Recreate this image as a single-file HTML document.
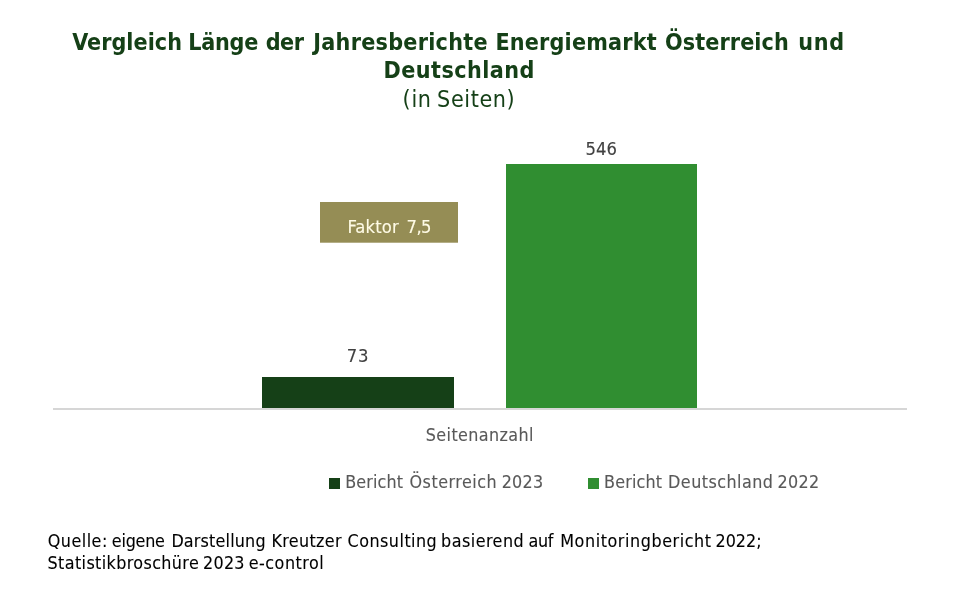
<!DOCTYPE html>
<html lang="de">
<head>
<meta charset="utf-8">
<title>Vergleich Länge der Jahresberichte Energiemarkt Österreich und Deutschland</title>
<style>
  html, body { margin: 0; padding: 0; background: #ffffff; }
  body { width: 953px; height: 598px; position: relative; overflow: hidden;
         font-family: "DejaVu Sans Condensed", "DejaVu Sans", "Liberation Sans", sans-serif;
         font-stretch: condensed; }
  .ln { position: absolute; left: 0; width: 953px; height: 0; white-space: nowrap; line-height: 1; }
  .ln span { position: absolute; top: 0; white-space: nowrap; }
  .title { color: #154017; font-size: 23.1px; font-weight: bold; }
  .sub { color: #154017; font-size: 23.1px; font-weight: normal; }
  .val { color: #404040; font-size: 18.25px; -webkit-text-stroke: 0.12px #404040; }
  .fk  { color: #fffbe6; font-size: 18.25px; -webkit-text-stroke: 0.12px #fffbe6; }
  .ax  { color: #595959; font-size: 17.75px; -webkit-text-stroke: 0.12px #595959; }
  .leg { color: #595959; font-size: 17.75px; -webkit-text-stroke: 0.12px #595959; }
  .src { color: #000000; font-size: 17.75px; -webkit-text-stroke: 0.1px #000000; }
  .bar { position: absolute; }
  #bar-at { left: 262px; top: 377px; width: 192px; height: 31px; background: #154017; }
  #bar-de { left: 506px; top: 164px; width: 191px; height: 244px; background: #308e31; }
  #axis { position: absolute; left: 53px; top: 408px; width: 854px; height: 2px; background: #d6d6d6; }
  #faktor { position: absolute; left: 320px; top: 202px; width: 138px; height: 41px; background: linear-gradient(#958d55 0, #958d55 40px, #b4ae87 40px); }
  .sq { position: absolute; width: 11px; height: 11px; top: 478px; }
  #sq1 { left: 329px; background: #154017; }
  #sq2 { left: 588px; background: #308e31; }
</style>
</head>
<body>
  <div class="ln title" id="t1" style="top:30.8px"><span style="left:72.18px;letter-spacing:0.039px">Vergleich</span> <span style="left:188.28px;letter-spacing:-0.255px">Länge</span> <span style="left:265.74px;letter-spacing:-0.500px">der</span> <span style="left:313.31px;letter-spacing:0.271px">Jahresberichte</span> <span style="left:495.41px;letter-spacing:0.195px">Energiemarkt</span> <span style="left:665.09px;letter-spacing:0.090px">Österreich</span> <span style="left:798.34px;letter-spacing:0.700px">und</span></div>
  <div class="ln title" id="t2" style="top:58.8px"><span style="left:383.55px;letter-spacing:0.445px">Deutschland</span></div>
  <div class="ln sub" id="t3" style="top:87.6px"><span style="left:402.58px;letter-spacing:0.700px">(in</span> <span style="left:437.10px;letter-spacing:0.601px">Seiten)</span></div>
  <div class="ln val" id="v546" style="top:140px"><span style="left:585.39px;letter-spacing:0.157px">546</span></div>
  <div class="ln val" id="v73" style="top:347px"><span style="left:346.87px;letter-spacing:0.700px">73</span></div>
  <div id="faktor"></div>
  <div class="ln fk" id="fk" style="top:218px"><span style="left:347.40px;letter-spacing:0.156px">Faktor</span> <span style="left:406.44px;letter-spacing:-0.500px">7,5</span></div>
  <div class="bar" id="bar-at"></div>
  <div class="bar" id="bar-de"></div>
  <div id="axis"></div>
  <div class="ln ax" id="axl" style="top:426.6px"><span style="left:425.76px;letter-spacing:0.413px">Seitenanzahl</span></div>
  <div class="sq" id="sq1"></div>
  <div class="ln leg" id="l1" style="top:473.8px"><span style="left:345.25px;letter-spacing:0.128px">Bericht</span> <span style="left:409.51px;letter-spacing:0.511px">Österreich</span> <span style="left:501.68px;letter-spacing:0.251px">2023</span></div>
  <div class="sq" id="sq2"></div>
  <div class="ln leg" id="l2" style="top:473.8px"><span style="left:604.09px;letter-spacing:0.168px">Bericht</span> <span style="left:668.08px;letter-spacing:0.472px">Deutschland</span> <span style="left:777.59px;letter-spacing:0.276px">2022</span></div>
  <div class="ln src" id="s1" style="top:532.6px"><span style="left:47.74px;letter-spacing:0.492px">Quelle:</span> <span style="left:111.87px;letter-spacing:-0.231px">eigene</span> <span style="left:171.39px;letter-spacing:0.186px">Darstellung</span> <span style="left:271.56px;letter-spacing:0.336px">Kreutzer</span> <span style="left:347.60px;letter-spacing:0.476px">Consulting</span> <span style="left:441.04px;letter-spacing:0.484px">basierend</span> <span style="left:528.53px;letter-spacing:-0.288px">auf</span> <span style="left:560.21px;letter-spacing:0.585px">Monitoringbericht</span> <span style="left:715.54px;letter-spacing:0.002px">2022;</span></div>
  <div class="ln src" id="s2" style="top:554.6px"><span style="left:47.57px;letter-spacing:0.389px">Statistikbroschüre</span> <span style="left:202.97px;letter-spacing:0.308px">2023</span> <span style="left:248.65px;letter-spacing:0.532px">e-control</span></div>
</body>
</html>
